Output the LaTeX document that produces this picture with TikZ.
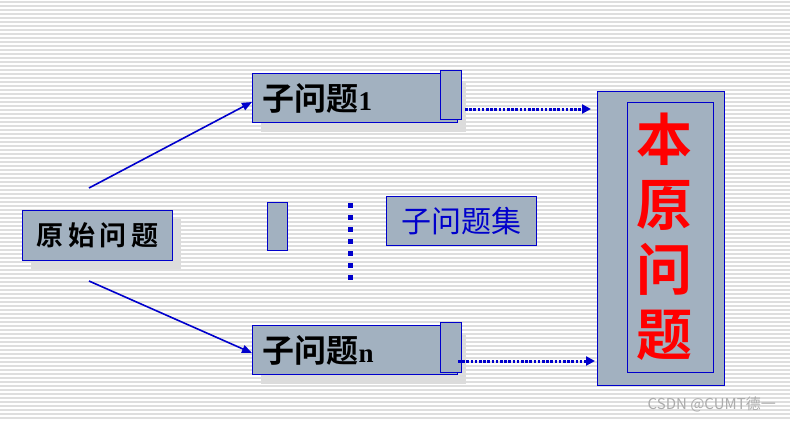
\documentclass[tikz,border=0pt]{standalone}
\usepackage{fontspec}
\usetikzlibrary{arrows.meta,shadows,calc}
\newfontfamily\cjk{Noto Sans CJK SC}
\newfontfamily\cjkbold{Noto Sans CJK SC Bold}
\newfontfamily\tnr{Liberation Serif}
\newfontfamily\wmfont{Noto Sans CJK SC}
\definecolor{boxfill}{RGB}{162,177,192}
\definecolor{edge}{RGB}{0,0,204}
\definecolor{shade}{RGB}{220,220,220}
\definecolor{stripe}{RGB}{222,222,222}
\begin{document}
\begin{tikzpicture}[x=1pt,y=-1pt,
  stripeline/.style={draw=stripe,line width=1.3pt},
  box/.style={draw=edge,fill=boxfill,line width=1pt,inner sep=0pt},
  shadowed/.style={copy shadow={shadow xshift=8pt,shadow yshift=-9pt,fill=shade,draw=none}},
  subbox/.style={box,shadowed,anchor=north west,minimum height=49pt,text width=185pt,inner xsep=10pt,align=left},
  arrowline/.style={draw=edge,line width=1.6pt,-{Triangle[length=10pt,width=8pt]}},
  dotarrow/.style={draw=edge,line width=3pt,dash pattern=on 2.6pt off 1.6pt,-{Triangle[length=9pt,width=9pt]}},
  vdots/.style={draw=edge,line width=5pt,dash pattern=on 5pt off 7pt}
]
\useasboundingbox (0,0) rectangle (790,421);
\fill[white] (0,0) rectangle (790,421);
\foreach \yy in {2,6,...,421} \draw[stripeline] (0,\yy) -- (790,\yy);

% original problem
\node[box,copy shadow={shadow xshift=8pt,shadow yshift=-8pt,fill=shade,draw=none},anchor=north west,minimum width=150pt,minimum height=50pt,
  font=\cjkbold\fontsize{27}{27}\selectfont] (orig) at (22,210) {原\,始\,问\,题};

% sub problem 1
\node[subbox] (sub1) at (252,73) {{\cjkbold\fontsize{32}{32}\selectfont 子问题}{\tnr\bfseries\fontsize{27}{27}\selectfont 1}};
\node[box,anchor=north west,minimum width=21pt,minimum height=49pt] (tab1) at (440,70) {};

% sub problem n
\node[subbox] (subn) at (252,325) {{\cjkbold\fontsize{32}{32}\selectfont 子问题}{\tnr\bfseries\fontsize{27}{27}\selectfont n}};
\node[box,anchor=north west,minimum width=21pt,minimum height=50pt] (tabn) at (440,322) {};

% middle items
\node[box,anchor=north west,minimum width=20pt,minimum height=48pt] (small) at (267,202) {};
\node[box,anchor=north west,minimum width=150pt,minimum height=49pt,text=edge,
  font=\cjk\fontsize{30}{30}\selectfont] (set) at (386,196) {子问题集};
\coordinate (vtop) at (350,203);
\coordinate (vbot) at (350,280);
\draw[vdots] (vtop) -- (vbot);

% big original problem
\node[box,anchor=north west,minimum width=127pt,minimum height=294pt] (big) at (597,91) {};
\node[draw=edge,line width=1pt,anchor=north west,minimum width=86pt,minimum height=270pt,inner sep=0pt] (inner) at (627,102) {};
\node[text=red,font=\cjkbold\fontsize{56}{65}\selectfont,align=center,inner sep=0pt] (bigtext) at (664,237) {本\\原\\问\\题};

% connectors
\coordinate (s1) at (89,188);
\coordinate (s2) at (89,281);
\draw[arrowline] (s1) -- ($(sub1.west)+(0,4)$);
\draw[arrowline] (s2) -- ($(subn.west)+(0,3)$);
\coordinate (d1) at (465,109);
\coordinate (d2) at (458,361);
\draw[dotarrow] (d1) -- ($(d1 -| big.west)+(-6,0)$);
\draw[dotarrow] (d2) -- ($(d2 -| big.west)+(-2,0)$);

% watermark
\node[text=gray!65,font=\wmfont\fontsize{15}{15}\selectfont,anchor=east,inner sep=0pt] (wm) at (776,404) {CSDN @CUMT德一};
\end{tikzpicture}
\end{document}
